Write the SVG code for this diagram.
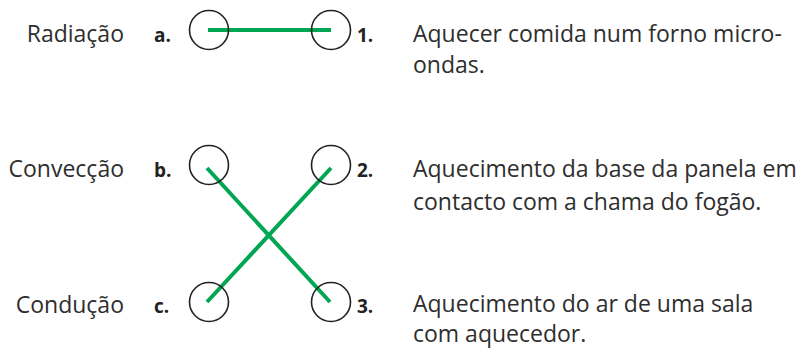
<svg xmlns="http://www.w3.org/2000/svg" width="803" height="349" viewBox="0 0 803 349">
<style>
.lbl{font-family:"Open Sans","Liberation Sans",sans-serif;font-size:23px;fill:#2e2e2e;text-anchor:end}
.key{font-family:"Open Sans","Liberation Sans",sans-serif;font-size:19px;font-weight:bold;fill:#222}
.desc{font-family:"Open Sans","Liberation Sans",sans-serif;font-size:23px;fill:#2e2e2e}
.dot{fill:none;stroke:#222;stroke-width:1.6}
.link{stroke:#00a651;stroke-width:4;fill:none}
</style>
<rect width="803" height="349" fill="#fff"/>
<g id="connectors">
<line class="link" x1="208" y1="30" x2="331" y2="30"/>
<line class="link" x1="207" y1="168" x2="330" y2="302"/>
<line class="link" x1="207" y1="302" x2="331" y2="168"/>
</g>
<g id="node-a">
<text class="lbl" x="124" y="42">Radiação</text>
<text class="key" x="154" y="42">a.</text>
<circle class="dot" cx="209" cy="30" r="19.5"/>
</g>
<g id="node-b">
<text class="lbl" x="124" y="177">Convecção</text>
<text class="key" x="154" y="177">b.</text>
<circle class="dot" cx="209" cy="165" r="19.5"/>
</g>
<g id="node-c">
<text class="lbl" x="124" y="313">Condução</text>
<text class="key" x="154" y="313">c.</text>
<circle class="dot" cx="209" cy="302" r="19.5"/>
</g>
<g id="node-1">
<circle class="dot" cx="331" cy="30" r="19.5"/>
<text class="key" x="357" y="42">1.</text>
<text class="desc" x="413" y="42">Aquecer comida num forno micro-</text>
<text class="desc" x="413" y="73">ondas.</text>
</g>
<g id="node-2">
<circle class="dot" cx="331" cy="165" r="19.5"/>
<text class="key" x="357" y="177">2.</text>
<text class="desc" x="413" y="177">Aquecimento da base da panela em</text>
<text class="desc" x="413" y="210">contacto com a chama do fogão.</text>
</g>
<g id="node-3">
<circle class="dot" cx="331" cy="302" r="19.5"/>
<text class="key" x="357" y="313">3.</text>
<text class="desc" x="413" y="312">Aquecimento do ar de uma sala</text>
<text class="desc" x="413" y="342">com aquecedor.</text>
</g>
</svg>
